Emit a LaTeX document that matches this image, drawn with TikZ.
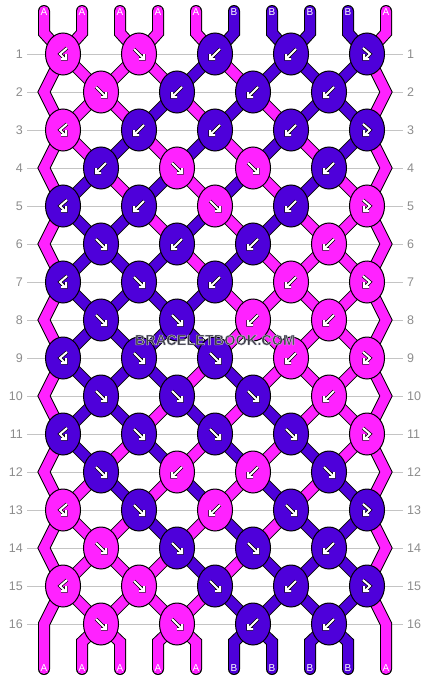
\documentclass[tikz,border=0pt]{standalone}
\usepackage{fontspec}
\setmainfont{Liberation Sans}
\usetikzlibrary{shapes.geometric}
\definecolor{thrA}{RGB}{255,34,255}
\definecolor{thrB}{RGB}{78,0,218}
\definecolor{rowgray}{RGB}{196,196,196}
\definecolor{numgray}{RGB}{140,140,140}
\definecolor{wmdark}{RGB}{60,60,70}
\pgfdeclarelayer{grid}
\pgfdeclarelayer{threads}
\pgfsetlayers{grid,threads,main}
\tikzset{
  knot/.style={ellipse, draw=black, line width=1pt, fill=thr#1,
    minimum width=35pt, minimum height=42pt, inner sep=0pt},
  thread/.style={draw=black, line width=1pt, double=thr#1,
    double distance=10pt, line join=miter},
  arrowpen/.style={white, line width=2pt, line join=miter,
    preaction={draw=black, line width=3.4pt}},
  rowline/.style={rowgray, line width=1pt},
  rownum/.style={numgray, font=\fontsize{12.5}{12.5}\selectfont, inner sep=0pt},
  strlabel/.style={white, font=\fontsize{10}{10}\selectfont, inner sep=0pt},
  watermark/.style={wmdark, font=\fontsize{14.5}{14.5}\selectfont\bfseries, inner sep=0pt}
}
% knot arrows: forward, backward, backward-forward, forward-backward
\def\arrf#1{\draw[arrowpen, shift={(#1)}] (-5,-5) -- (4,4) (0,5) -- (5,5) -- (5,0);}
\def\arrb#1{\draw[arrowpen, shift={(#1)}] (5,-5) -- (-4,4) (0,5) -- (-5,5) -- (-5,0);}
\def\arrbf#1{\draw[arrowpen, shift={(#1)}] (4,-6) -- (-3,0) -- (2,5) (-2,5) -- (3,5) -- (3,0);}
\def\arrfb#1{\draw[arrowpen, shift={(#1)}] (-4,-6) -- (3,0) -- (-2,5) (2,5) -- (-3,5) -- (-3,0);}
% outlined text (fill and stroke)
\def\outlined#1{\special{pdf:code 2 Tr 0.4 w 0.8 0.8 0.85 RG}#1\special{pdf:code 0 Tr}}

\begin{document}
\begin{tikzpicture}[x=1pt, y=-1pt]
  \useasboundingbox (0,0) rectangle (430,680);

  %%%%% knots %%%%%
  \foreach \r/\ks in {
    1/{A/bf,A/f,B/b,B/b,B/fb}, 2/{A/f,B/b,B/b,B/b},
    3/{A/bf,B/b,B/b,B/b,B/fb}, 4/{B/b,A/f,A/f,B/b},
    5/{B/bf,B/b,A/f,B/b,A/fb}, 6/{B/f,B/b,B/b,A/b},
    7/{B/bf,B/f,B/b,A/b,A/fb}, 8/{B/f,B/f,A/b,A/b},
    9/{B/bf,B/f,B/f,A/b,A/fb}, 10/{B/f,B/f,B/f,A/b},
    11/{B/bf,B/f,B/f,B/f,A/fb}, 12/{B/f,A/b,A/b,B/f},
    13/{A/bf,B/f,A/b,B/f,B/fb}, 14/{A/f,B/f,B/f,B/b},
    15/{A/bf,A/f,B/f,B/b,B/fb}, 16/{A/f,A/f,B/b,B/b}} {
    \foreach \c/\t [count=\j] in \ks {
      \pgfmathsetmacro\kx{isodd(\r) ? 63+76*(\j-1) : 101+76*(\j-1)}
      \node[knot=\c] (k\r-\j) at (\kx, 16+38*\r) {};
      \csname arr\t\endcsname{k\r-\j}
    }
  }

  %%%%% rows %%%%%
  \begin{pgfonlayer}{grid}
    \foreach \r in {1,...,16} {
      \draw[rowline] (27,16+38*\r) -- (403,16+38*\r);
      \node[rownum, anchor=east] (numL\r) at (23,16+38*\r) {\r};
      \node[rownum, anchor=west] (numR\r) at (407,16+38*\r) {\r};
    }
  \end{pgfonlayer}

  %%%%% threads %%%%%
  \begin{pgfonlayer}{threads}
    \foreach \r/\st in {
      1/{A,A,A,A,B,A,B,B,B,A}, 2/{A,A,A,B,A,B,A,B,B,A},
      3/{A,A,B,A,B,A,B,A,B,A}, 4/{A,B,A,B,A,B,A,B,A,A},
      5/{A,B,B,A,B,A,B,A,A,A}, 6/{A,B,B,B,A,B,A,A,A,A},
      7/{A,B,B,B,B,A,A,A,A,A}, 8/{A,B,B,B,B,A,A,A,A,A},
      9/{A,B,B,B,A,B,A,A,A,A}, 10/{A,B,B,A,B,A,B,A,A,A},
      11/{A,B,A,B,A,B,A,B,A,A}, 12/{A,A,B,A,B,A,B,A,B,A},
      13/{A,A,A,B,A,B,A,B,B,A}, 14/{A,A,A,A,B,A,B,B,B,A},
      15/{A,A,A,A,A,B,B,B,B,A}} {
      \pgfmathtruncatemacro\rn{\r+1}
      \foreach \c [count=\p from 0] in \st {
        \ifnum\p>0 \ifnum\p<9
          \pgfmathtruncatemacro\ja{isodd(\r) ? int(\p/2)+1 : int((\p+1)/2)}
          \pgfmathtruncatemacro\jb{isodd(\rn) ? int(\p/2)+1 : int((\p+1)/2)}
          \draw[thread=\c] (k\r-\ja.center) -- (k\rn-\jb.center);
        \fi\fi
      }
    }
    % edges
    \foreach \r [evaluate=\r as \rm using int(\r+1),
                 evaluate=\r as \rn using int(\r+2)] in {1,3,...,13} {
      \draw[thread=A] (k\r-1.center) -- (44,16+38*\rm) -- (k\rn-1.center);
      \draw[thread=A] (k\r-5.center) -- (386,16+38*\rm) -- (k\rn-5.center);
    }
    % top and bottom ends
    \foreach \c [count=\p from 0] in {A,A,A,A,A,B,B,B,B,A} {
      \pgfmathtruncatemacro\jt{int(\p/2)+1}
      \draw[thread=\c, line cap=round] (44+38*\p,11) -- (44+38*\p,33) -- (k1-\jt.center);
      \ifnum\p=0
        \draw[thread=\c, line cap=round] (k15-1.center) -- (44,624) -- (44,669);
      \else\ifnum\p=9
        \draw[thread=\c, line cap=round] (k15-5.center) -- (386,624) -- (386,669);
      \else
        \pgfmathtruncatemacro\jd{int((\p+1)/2)}
        \draw[thread=\c, line cap=round] (k16-\jd.center) -- (44+38*\p,642) -- (44+38*\p,669);
      \fi\fi
    }
  \end{pgfonlayer}

  %%%%% labels %%%%%
  \foreach \c [count=\p from 0] in {A,A,A,A,A,B,B,B,B,A} {
    \node[strlabel] (top\p) at (44+38*\p,12) {\c};
    \node[strlabel] (bot\p) at (44+38*\p,668) {\c};
  }

  \node[watermark] (wm) at (215,340) {\outlined{BRACELETBOOK.COM}};
\end{tikzpicture}
\end{document}
